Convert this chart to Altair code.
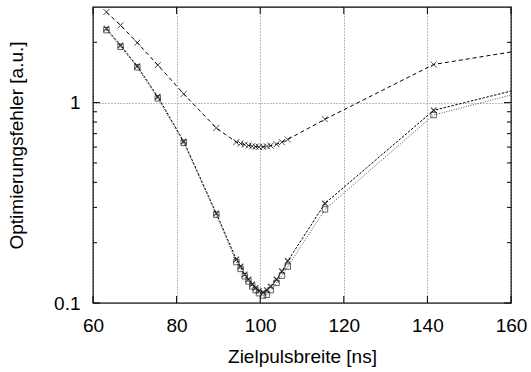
import altair as alt
import pandas as pd

# Pulse widths (ns) shared by all three series; last value lies beyond the plot edge (clipped)
pulse_width = [63.2, 66.6, 70.6, 75.5, 81.7, 89.5, 94.3, 95.3, 96.3, 97.2, 98.1, 98.9,
               99.7, 100.7, 101.6, 102.5, 103.9, 105.2, 106.6, 115.5, 141.5, 180.0]
err_a = [2.83, 2.43, 1.99, 1.54, 1.105, 0.747, 0.635, 0.625, 0.617, 0.611, 0.606, 0.603,
         0.601, 0.602, 0.605, 0.61, 0.62, 0.635, 0.655, 0.826, 1.55, 2.09]
err_b = [2.34, 1.93, 1.52, 1.07, 0.64, 0.28, 0.165, 0.152, 0.139, 0.131, 0.124, 0.119,
         0.115, 0.113, 0.116, 0.121, 0.131, 0.144, 0.162, 0.314, 0.915, 1.45]
err_c = [2.30, 1.90, 1.50, 1.05, 0.63, 0.276, 0.160, 0.148, 0.136, 0.128, 0.121, 0.116,
         0.112, 0.109, 0.110, 0.116, 0.126, 0.137, 0.152, 0.293, 0.867, 1.40]

x_ticks = [60, 80, 100, 120, 140, 160]
y_major = [0.1, 1]
y_minor = [0.2, 0.3, 0.4, 0.5, 0.6, 0.7, 0.8, 0.9, 2]

W, H = 418, 296
FONT = "Liberation Sans"
FS = 19

df = pd.DataFrame({"w": pulse_width, "a": err_a, "b": err_b, "c": err_c})

xscale = alt.Scale(domain=[60, 160], nice=False, zero=False)
yscale = alt.Scale(type="log", domain=[0.1, 3], nice=False)

XAX = alt.Axis(values=x_ticks, grid=True, ticks=False, domain=False,
               labelPadding=13, labelFlush=False, title="Zielpulsbreite [ns]",
               titleBaseline="alphabetic", titleY=59, titleX=W / 2,
               titleAlign="center")
YAX = alt.Axis(values=y_major, format="~g", grid=True, ticks=False,
               domain=False, labelPadding=13, labelFlush=False,
               title="Optimierungsfehler [a.u.]",
               titleAngle=270, titleBaseline="alphabetic",
               titleX=-71, titleY=138, titleAlign="center")

def X(field):
    return alt.X(field + ":Q", scale=xscale, axis=XAX, title="Zielpulsbreite [ns]")

def Y(field):
    return alt.Y(field + ":Q", scale=yscale, axis=YAX, title="Optimierungsfehler [a.u.]")

base = alt.Chart(df)

line_a = base.mark_line(clip=True, color="black", strokeWidth=1, strokeDash=[4, 3]).encode(x=X("w"), y=Y("a"))
line_b = base.mark_line(clip=True, color="black", strokeWidth=1, strokeDash=[2.5, 1.5]).encode(x=X("w"), y=Y("b"))
line_c = base.mark_line(clip=True, color="#555555", strokeWidth=1, strokeDash=[1, 1.5]).encode(x=X("w"), y=Y("c"))

cross = "M -1 -1 L 1 1 M -1 1 L 1 -1"
pts_a = base.mark_point(clip=True, shape=cross, size=36, color="black", strokeWidth=1, filled=False).encode(x=X("w"), y=Y("a"))
pts_b = base.mark_point(clip=True, shape=cross, size=30, color="black", strokeWidth=1.3, filled=False).encode(x=X("w"), y=Y("b"))
pts_c = base.mark_point(clip=True, shape="square", size=30, color="#222222", strokeWidth=1, filled=False).encode(x=X("w"), y=Y("c"))

# inward ticks
dx = pd.DataFrame({"t": x_ticks})
dym = pd.DataFrame({"v": y_major})
dyn = pd.DataFrame({"v": y_minor})
tk = dict(color="black", strokeWidth=1)
ticks = [
    alt.Chart(dx).mark_rule(**tk).encode(x=X("t"), y=alt.value(H), y2=alt.value(H - 7)),
    alt.Chart(dx).mark_rule(**tk).encode(x=X("t"), y=alt.value(0), y2=alt.value(7)),
    alt.Chart(dym).mark_rule(**tk).encode(y=Y("v"), x=alt.value(0), x2=alt.value(7)),
    alt.Chart(dym).mark_rule(**tk).encode(y=Y("v"), x=alt.value(W), x2=alt.value(W - 7)),
    alt.Chart(dyn).mark_rule(**tk).encode(y=Y("v"), x=alt.value(0), x2=alt.value(4)),
    alt.Chart(dyn).mark_rule(**tk).encode(y=Y("v"), x=alt.value(W), x2=alt.value(W - 4)),
]

chart = alt.layer(line_a, line_b, line_c, pts_a, pts_b, pts_c, *ticks).properties(
    width=W, height=H,
    background="white",
    autosize=alt.AutoSizeParams(type="none"),
    padding={"left": 93, "top": 7, "right": 20, "bottom": 69},
).configure_view(
    stroke="black", strokeWidth=1.3
).configure_axis(
    labelFont=FONT, titleFont=FONT, labelFontSize=FS, titleFontSize=FS,
    labelColor="black", titleColor="black", titleFontWeight="normal",
    gridColor="#777777", gridDash=[1, 2], gridWidth=1,
)

chart.save("out.html", embed_options={"renderer": "svg", "actions": False})
